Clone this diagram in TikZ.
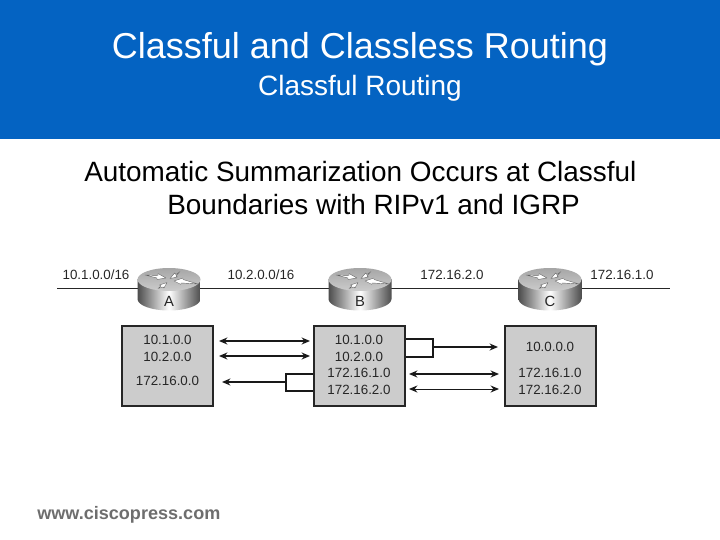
\documentclass[tikz,border=0pt]{standalone}
\usepackage{fontspec}
\setmainfont{Liberation Sans}
\usetikzlibrary{positioning,arrows.meta}
\definecolor{headblue}{RGB}{4,99,194}
\definecolor{tablegray}{RGB}{204,204,204}
\definecolor{footgray}{RGB}{110,110,110}
\tikzset{
  tablebox/.style={draw=black!85,line width=1.5pt,fill=tablegray,minimum width=64.7pt,minimum height=56.9pt,inner sep=0pt},
  routerspot/.style={minimum width=44.8pt,minimum height=30pt,inner sep=0pt},
  entry/.style={font=\fontsize{9.5}{11}\selectfont,text=black!85,inner sep=0pt},
  linklabel/.style={font=\fontsize{9.5}{11}\selectfont,text=black!85,inner sep=0pt},
  wire/.style={black!85,line width=0.6pt},
  dbl/.style={black!90,line width=1.3pt,{Stealth[length=6pt,width=5pt]}-{Stealth[length=6pt,width=5pt]}},
  sgl/.style={black!90,line width=1.3pt,-{Stealth[length=6pt,width=5pt]}},
  brace/.style={black!90,line width=1.3pt},
  lidarrow/.style={fill=white,draw=black!60,line width=0.3pt,line join=round}
}
% one router: body, lid, white arrows, letter
\newcommand{\routerat}[3]{%
  \begin{scope}[shift={(#1,0)}]
  \shade[left color=black!70,right color=black!70,middle color=white]
    (-31.5,279) -- (-31.5,299) arc[start angle=180,end angle=0,x radius=31.5,y radius=11.5] -- (31.5,279) -- cycle;
  \shade[top color=black!35,bottom color=black!20]
    (0,279.5) ellipse[x radius=31.5,y radius=11.5];
  \path[lidarrow] (-24,275) -- (-11,275.5) -- (-11,273.5) -- (-3,278) -- (-12,279.5) -- (-12,278) -- cycle;
  \path[lidarrow] (29,284) -- (14,279.5) -- (14,278) -- (5,281) -- (12,284.5) -- (12,283) -- cycle;
  \path[lidarrow] (11,271.5) -- (7,274.5) -- (5.5,273) -- (1,278.5) -- (8.5,277) -- (7,276) -- cycle;
  \path[lidarrow] (-11,288.5) -- (-8,286) -- (-9.5,285) -- (-2,282.5) -- (-5,288) -- (-6,287) -- cycle;
  \end{scope}
  \node[routerspot] (#2) at (#1,288) {};
  \node[font=\fontsize{10.5}{12}\selectfont,text=black!85,inner sep=0pt] (#2label) at (#1,301) {#3};
}
\begin{document}
\begin{tikzpicture}[x=0.7113pt,y=-0.7113pt]
\useasboundingbox (0,0) rectangle (720,540);
\fill[headblue] (0,0) rectangle (720,139);
\node[anchor=base,text=white,font=\fontsize{25.6}{30}\selectfont,inner sep=0pt] (title) at (360,58) {Classful and Classless Routing};
\node[anchor=base,text=white,font=\fontsize{19.9}{23}\selectfont,inner sep=0pt] (subtitle) at (360,95) {Classful Routing};
\node[anchor=base west,text=black,font=\fontsize{19.85}{23}\selectfont,inner sep=0pt] (line1) at (84,181) {Automatic Summarization Occurs at Classful};
\node[anchor=base west,text=black,font=\fontsize{19.85}{23}\selectfont,inner sep=0pt] (line2) at (167,214) {Boundaries with RIPv1 and IGRP};
% routers and links
\coordinate (leftend) at (57,288);
\coordinate (rightend) at (670,288);
\draw[wire] (leftend) -- (rightend);
\routerat{169}{rA}{A}
\routerat{360}{rB}{B}
\routerat{550}{rC}{C}
\node[linklabel] (net1) at (96,274.5) {10.1.0.0/16};
\node[linklabel] (net2) at (261,274.5) {10.2.0.0/16};
\node[linklabel] (net3) at (452,274.5) {172.16.2.0};
\node[linklabel] (net4) at (622,274.5) {172.16.1.0};
% routing tables
\node[tablebox] (tabA) at (167.5,366) {};
\node[tablebox] (tabB) at (359.5,366) {};
\node[tablebox] (tabC) at (550.5,366) {};
\node[entry] (a1) at (167.5,340) {10.1.0.0};
\node[entry] (a2) at (167.5,356.5) {10.2.0.0};
\node[entry] (a3) at (167.5,381) {172.16.0.0};
\node[entry] (b1) at (359,340) {10.1.0.0};
\node[entry] (b2) at (359,356.5) {10.2.0.0};
\node[entry] (b3) at (359,373) {172.16.1.0};
\node[entry] (b4) at (359,390) {172.16.2.0};
\node[entry] (c1) at (550,347) {10.0.0.0};
\node[entry] (c2) at (550,373) {172.16.1.0};
\node[entry] (c3) at (550,390) {172.16.2.0};
% updates
\coordinate (l1) at (219,341); \coordinate (r1) at (310,341);
\coordinate (l2) at (219,356); \coordinate (r2) at (310,356);
\coordinate (l3) at (222,382); \coordinate (r3) at (286,382);
\draw[dbl] (l1) -- (r1);
\draw[dbl] (l2) -- (r2);
\draw[sgl] (r3) -- (l3);
\draw[brace] (tabB.west |- 0,374) -| (286,391) -- (tabB.west |- 0,391);
\coordinate (l4) at (433,347); \coordinate (r4) at (498,347);
\coordinate (l5) at (409,374); \coordinate (r5) at (499,374);
\coordinate (l6) at (409,389); \coordinate (r6) at (499,389);
\draw[brace] (tabB.east |- 0,339) -| (433,357) -- (tabB.east |- 0,357);
\draw[sgl] (l4) -- (r4);
\draw[dbl] (l5) -- (r5);
\draw[dbl,line width=0.7pt] (l6) -- (r6);
\node[anchor=base west,text=footgray,font=\bfseries\fontsize{12.85}{15}\selectfont,inner sep=0pt] (foot) at (37,519) {www.ciscopress.com};
\end{tikzpicture}
\end{document}
